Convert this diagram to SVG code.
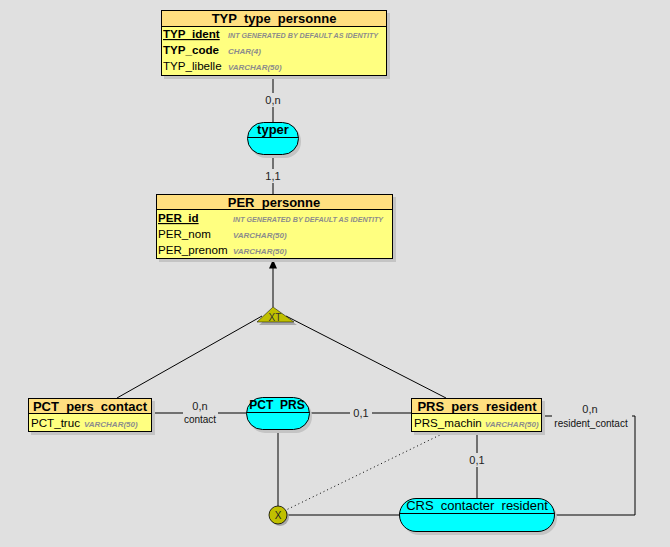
<svg xmlns="http://www.w3.org/2000/svg" width="670" height="547" viewBox="0 0 670 547">
<defs>
<style>
text{font-family:"Liberation Sans",Arial,sans-serif;fill:#000;white-space:pre}
.hdr{font-size:13px;font-weight:bold;text-anchor:middle}
.row{font-size:11.6px}
.pk{font-weight:bold;text-decoration:underline}
.b{font-weight:bold}
.typ{font-size:8px;font-style:italic;font-weight:bold;fill:#8c8c8c}
.ent{fill:#ffff80;stroke:#000;stroke-width:1}
.enth{fill:#ffdf80;stroke:#000;stroke-width:1}
.shadow{fill:#c4c4c4}
.asso{fill:#00ffff;stroke:#000;stroke-width:1}
.an{font-size:13px;text-anchor:middle}
.card{font-size:11px;text-anchor:middle;fill:#222}
.role{font-size:10px;text-anchor:middle;fill:#111}
.ln{stroke:#000;stroke-width:1;fill:none}
.dot{stroke:#000;stroke-width:1;fill:none;stroke-dasharray:1 3}
.bg{fill:#e0e0e0}
</style>
<marker id="arr" markerWidth="9" markerHeight="8" refX="9" refY="4" orient="auto" markerUnits="userSpaceOnUse" viewBox="0 0 9 8">
<path d="M0,0 L9,4 L0,8 Z" fill="#000"/>
</marker>
</defs>
<rect width="670" height="547" fill="#e0e0e0"/>

<g id="connectors">
<line class="ln" x1="273" y1="76" x2="273" y2="122"/>
<line class="ln" x1="273" y1="155" x2="273" y2="194"/>
<line class="ln" x1="273" y1="307" x2="273" y2="259.5" marker-end="url(#arr)"/>
<line class="ln" x1="262" y1="316" x2="117" y2="398"/>
<line class="ln" x1="286" y1="316" x2="446" y2="398"/>
<line class="ln" x1="152" y1="413" x2="247" y2="413"/>
<line class="ln" x1="309" y1="413" x2="411" y2="413"/>
<polyline class="ln" points="542,416 635,416 635,515 554,515"/>
<line class="ln" x1="477" y1="432" x2="477" y2="498"/>
<line class="ln" x1="278" y1="430" x2="278" y2="506"/>
<line class="ln" x1="287" y1="515" x2="399" y2="515"/>
<line class="dot" x1="284" y1="511" x2="444" y2="433"/>
<rect class="bg" x="260" y="93" width="26" height="14"/>
<text class="card" x="273" y="104">0,n</text>
<rect class="bg" x="261" y="169" width="24" height="14"/>
<text class="card" x="273" y="180" fill="#1f3f7f">1,1</text>
<rect class="bg" x="183" y="399" width="35" height="27"/>
<text class="card" x="200" y="410">0,n</text>
<text class="role" x="200" y="423">contact</text>
<rect class="bg" x="350" y="406" width="22" height="14"/>
<text class="card" x="361" y="417">0,1</text>
<rect class="bg" x="552" y="400" width="80" height="28"/>
<text class="card" x="590" y="413">0,n</text>
<text class="role" x="591" y="427">resident_contact</text>
<rect class="bg" x="465" y="453" width="24" height="14"/>
<text class="card" x="477" y="464">0,1</text>
</g>

<g id="TYP_type_personne">
<rect class="shadow" x="164" y="13" width="226" height="66"/>
<rect class="ent" x="161.5" y="10.5" width="225" height="65"/>
<rect class="enth" x="161.5" y="10.5" width="225" height="16"/>
<text class="hdr" x="274" y="23">TYP  type  personne</text>
<text class="row pk" x="163" y="38">TYP_ident</text>
<text class="row b" x="163" y="54">TYP_code</text>
<text class="row" x="163" y="70">TYP_libelle</text>
<text class="typ" x="228" y="38" textLength="150" lengthAdjust="spacingAndGlyphs">INT GENERATED BY DEFAULT AS IDENTITY</text>
<text class="typ" x="228" y="54">CHAR(4)</text>
<text class="typ" x="228" y="70">VARCHAR(50)</text>
</g>

<g id="typer">
<rect class="shadow" x="250" y="125" width="51" height="33" rx="16"/>
<rect class="asso" x="247.5" y="122.5" width="51" height="32" rx="16"/>
<line class="ln" x1="247.5" y1="137.5" x2="298.5" y2="137.5"/>
<text class="an b" x="273" y="134">typer</text>
</g>

<g id="PER_personne">
<rect class="shadow" x="159" y="197" width="237" height="65"/>
<rect class="ent" x="156.5" y="194.5" width="236" height="64"/>
<rect class="enth" x="156.5" y="194.5" width="236" height="15"/>
<text class="hdr" x="274" y="207">PER  personne</text>
<text class="row pk" x="158" y="222">PER_id</text>
<text class="row" x="158" y="238">PER_nom</text>
<text class="row" x="158" y="254">PER_prenom</text>
<text class="typ" x="233" y="222" textLength="150" lengthAdjust="spacingAndGlyphs">INT GENERATED BY DEFAULT AS IDENTITY</text>
<text class="typ" x="233" y="238">VARCHAR(50)</text>
<text class="typ" x="233" y="254">VARCHAR(50)</text>
</g>

<g id="XT">
<polygon points="259,325 276,310 297,325" fill="#a8a8a8"/>
<polygon points="257,322 273,307 294,322" fill="#c0c000" stroke="#000" stroke-width="0.5"/>
<text x="275" y="321" style="font-size:10px;text-anchor:middle;fill:#333">XT</text>
</g>

<g id="PCT_pers_contact">
<rect class="shadow" x="31" y="401" width="124" height="34"/>
<rect class="ent" x="28.5" y="398.5" width="123" height="33"/>
<rect class="enth" x="28.5" y="398.5" width="123" height="15"/>
<text class="hdr" x="90" y="411">PCT  pers  contact</text>
<text class="row" x="31" y="427">PCT_truc</text>
<text class="typ" x="84" y="427">VARCHAR(50)</text>
</g>

<g id="PCT_PRS">
<rect class="shadow" x="249" y="400" width="63" height="33" rx="16"/>
<rect class="asso" x="246.5" y="397.5" width="63" height="32" rx="16"/>
<line class="ln" x1="246.5" y1="412.5" x2="309.5" y2="412.5"/>
<text class="an b" x="277" y="409" style="font-size:12px">PCT  PRS</text>
</g>

<g id="PRS_pers_resident">
<rect class="shadow" x="414" y="401" width="131" height="34"/>
<rect class="ent" x="411.5" y="398.5" width="130" height="33"/>
<rect class="enth" x="411.5" y="398.5" width="130" height="15"/>
<text class="hdr" x="477" y="411">PRS  pers  resident</text>
<text class="row" x="414" y="427">PRS_machin</text>
<text class="typ" x="485" y="427">VARCHAR(50)</text>
</g>

<g id="X">
<circle cx="280" cy="517" r="9" fill="#a8a8a8"/>
<circle cx="278" cy="515" r="9" fill="#c0c000" stroke="#000" stroke-width="0.8"/>
<text x="278" y="519" style="font-size:10px;text-anchor:middle;fill:#222">X</text>
</g>

<g id="CRS_contacter_resident">
<rect class="shadow" x="402" y="501" width="155" height="34" rx="17"/>
<rect class="asso" x="399.5" y="498.5" width="155" height="33" rx="16.5"/>
<line class="ln" x1="399.5" y1="513.5" x2="554.5" y2="513.5"/>
<text class="an" x="477" y="510">CRS  contacter  resident</text>
</g>
</svg>
